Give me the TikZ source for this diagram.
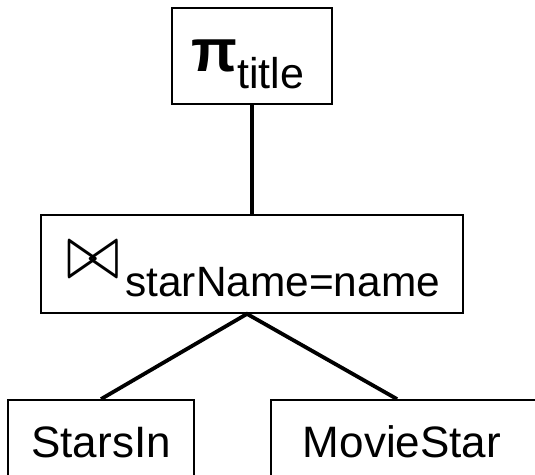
\documentclass[tikz,border=0pt]{standalone}
\usepackage{fontspec}
\setmainfont{Liberation Sans}
\usetikzlibrary{calc}
\begin{document}
\begin{tikzpicture}[x=1pt,y=-1pt,
  box/.style={draw,line width=1.8pt,inner sep=0pt},
  edge/.style={line width=3.8pt},
  lbl/.style={inner sep=0pt,font=\fontsize{44}{44}\selectfont}]
\useasboundingbox (0,0) rectangle (535,474);
\clip (0,0) rectangle (535,474);
% boxes
\node[box,minimum width=160,minimum height=96] (proj) at (252,56) {};
\node[box,minimum width=422,minimum height=98] (join) at (252,264) {};
\node[box,minimum width=186,minimum height=90] (si) at (101,445) {};
\node[box,minimum width=269,minimum height=90] (ms) at (405.5,445) {};
% texts
\node[lbl,anchor=base west] (projtxt) at (191,71)
  {{\fontsize{60}{60}\selectfont\bfseries π}\raisebox{-17pt}{\fontsize{43}{43}\selectfont title}};
\node[lbl,anchor=base west] (jointxt) at (66,278)
  {\scalebox{6.5}[7.8]{\fontsize{10}{12}\selectfont$\bowtie$}\hspace{5pt}\raisebox{-18pt}{\fontsize{42.4}{43}\selectfont starName=name}};
\node[lbl,anchor=base] (sitxt) at (101,457) {StarsIn};
\node[lbl,anchor=base] (mstxt) at (402,457) {MovieStar};
% connectors
\coordinate (fork) at ($(join.south)+(-5,0)$);
\coordinate (msin) at ($(ms.north west)+(127,0)$);
\draw[edge] (proj.south) -- (join.north);
\draw[edge] (si.north) -- (fork) -- (msin);
\end{tikzpicture}
\end{document}
